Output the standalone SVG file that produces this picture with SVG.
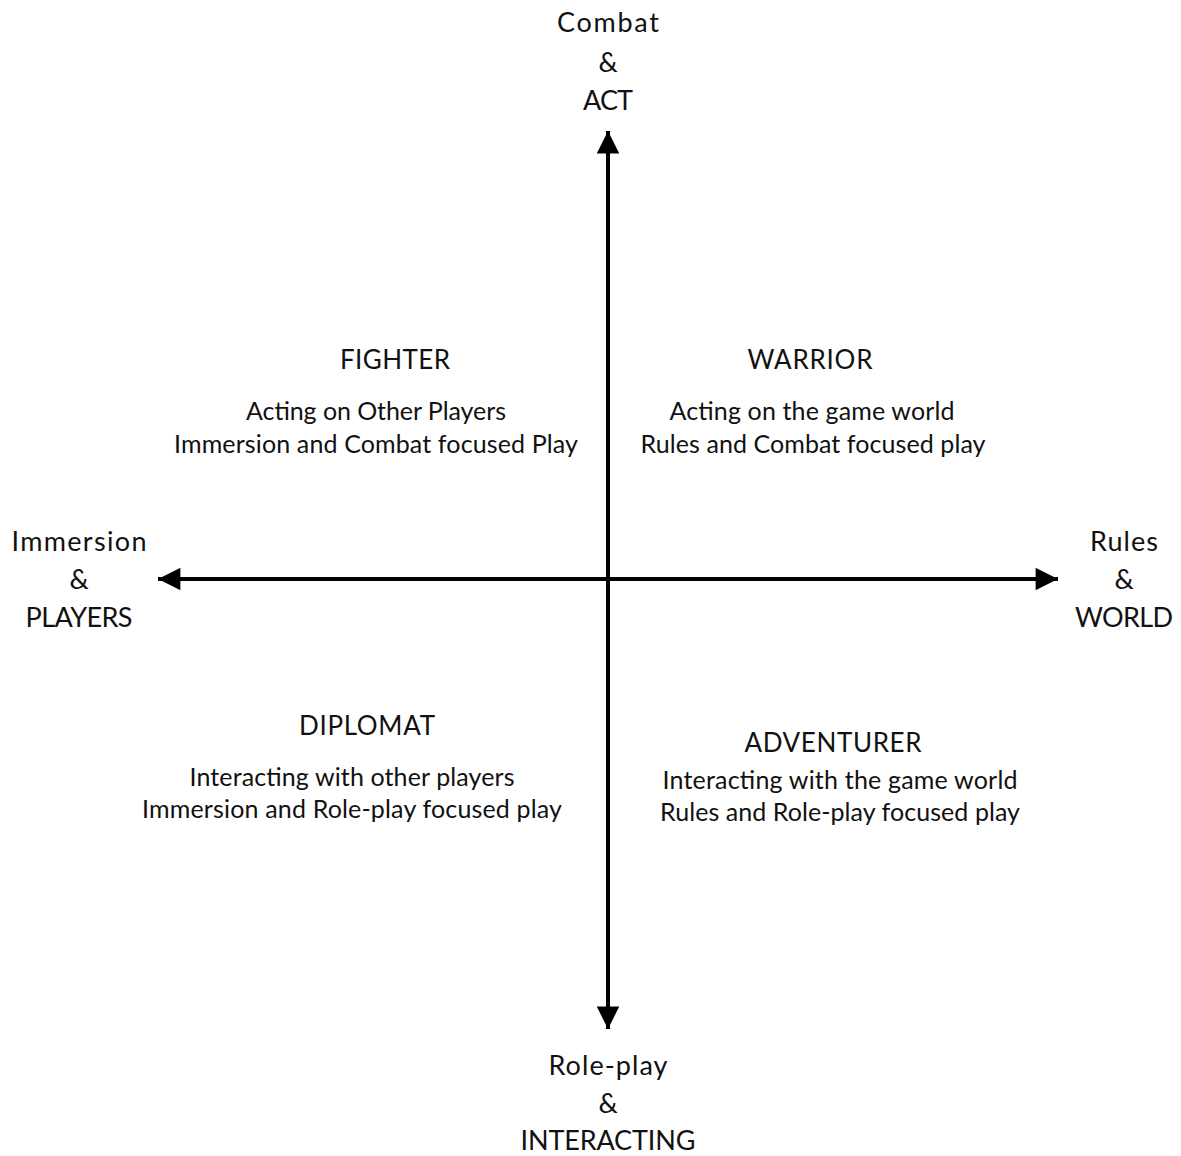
<svg xmlns="http://www.w3.org/2000/svg" width="1181" height="1156" viewBox="0 0 1181 1156">
<style>
text { font-family: Lato, "Open Sans", "Liberation Sans", sans-serif; fill: #111; text-anchor: middle; }
.ax { font-size: 27px; }
.t { font-size: 26px; }
.b { font-size: 25px; }
.line { stroke: #000; stroke-width: 4; fill: none; }
</style>
<defs>
<marker id="ah" viewBox="0 0 10 10" refX="10" refY="5" markerWidth="6" markerHeight="5.6" markerUnits="strokeWidth" orient="auto">
<path d="M0,0 L10,5 L0,10 z" fill="#000"/>
</marker>
</defs>
<rect width="1181" height="1156" fill="#fff"/>
<g id="connectors">
<line class="line" x1="608" y1="579" x2="608" y2="131" marker-end="url(#ah)"/>
<line class="line" x1="608" y1="579" x2="608" y2="1029" marker-end="url(#ah)"/>
<line class="line" x1="608" y1="579" x2="158" y2="579" marker-end="url(#ah)"/>
<line class="line" x1="608" y1="579" x2="1058" y2="579" marker-end="url(#ah)"/>
</g>
<g id="top-label">
<text class="ax" x="608" y="32" textLength="102" lengthAdjust="spacing">Combat</text>
<text class="ax" x="608" y="72">&amp;</text>
<text class="ax" x="608" y="110" textLength="50" lengthAdjust="spacing">ACT</text>
</g>
<g id="left-label">
<text class="ax" x="79" y="551" textLength="135" lengthAdjust="spacing">Immersion</text>
<text class="ax" x="79" y="589">&amp;</text>
<text class="ax" x="79" y="627" textLength="107" lengthAdjust="spacing">PLAYERS</text>
</g>
<g id="right-label">
<text class="ax" x="1124" y="551" textLength="68" lengthAdjust="spacing">Rules</text>
<text class="ax" x="1124" y="589">&amp;</text>
<text class="ax" x="1124" y="627" textLength="98" lengthAdjust="spacing">WORLD</text>
</g>
<g id="bottom-label">
<text class="ax" x="608" y="1075" textLength="119" lengthAdjust="spacing">Role-play</text>
<text class="ax" x="608" y="1113">&amp;</text>
<text class="ax" x="608" y="1150" textLength="175" lengthAdjust="spacing">INTERACTING</text>
</g>
<g id="fighter">
<text class="t" x="395" y="369" textLength="110" lengthAdjust="spacing">FIGHTER</text>
<text class="b" x="376" y="420" textLength="260" lengthAdjust="spacing">Acting on Other Players</text>
<text class="b" x="376" y="453" textLength="404" lengthAdjust="spacing">Immersion and Combat focused Play</text>
</g>
<g id="warrior">
<text class="t" x="810" y="369" textLength="125" lengthAdjust="spacing">WARRIOR</text>
<text class="b" x="812" y="420" textLength="285" lengthAdjust="spacing">Acting on the game world</text>
<text class="b" x="813" y="453" textLength="345" lengthAdjust="spacing">Rules and Combat focused play</text>
</g>
<g id="diplomat">
<text class="t" x="367" y="735" textLength="136" lengthAdjust="spacing">DIPLOMAT</text>
<text class="b" x="352" y="786" textLength="325" lengthAdjust="spacing">Interacting with other players</text>
<text class="b" x="352" y="818" textLength="420" lengthAdjust="spacing">Immersion and Role-play focused play</text>
</g>
<g id="adventurer">
<text class="t" x="833" y="752" textLength="177" lengthAdjust="spacing">ADVENTURER</text>
<text class="b" x="840" y="789" textLength="355" lengthAdjust="spacing">Interacting with the game world</text>
<text class="b" x="840" y="821" textLength="360" lengthAdjust="spacing">Rules and Role-play focused play</text>
</g>
</svg>
